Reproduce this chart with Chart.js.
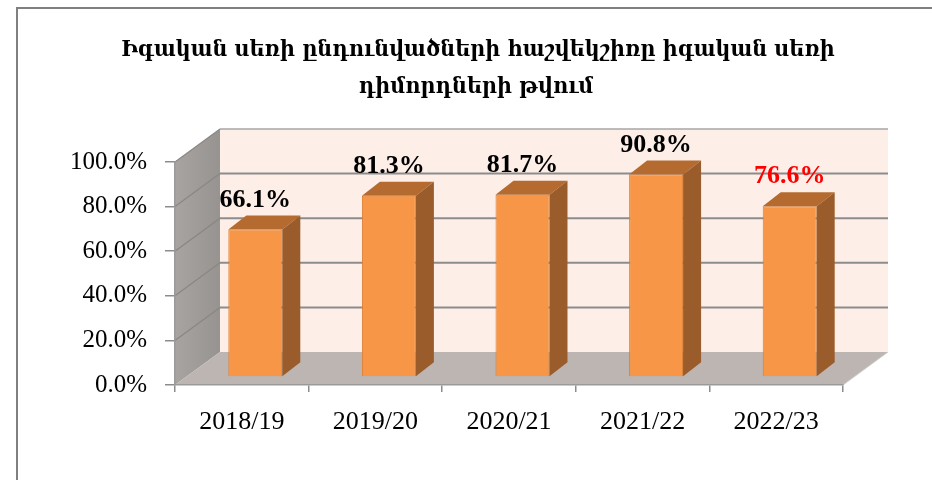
<!DOCTYPE html>
<html>
<head>
<meta charset="utf-8">
<script src="https://cdn.jsdelivr.net/npm/chart.js@4"></script>
<style>
  html, body { margin: 0; padding: 0; background: #ffffff; }
  #wrap { width: 932px; height: 480px; }
</style>
</head>
<body>
<div id="wrap"><canvas id="c" width="932" height="480"></canvas></div>
<script>
// ---- data ----
const titleLines = [
  'Իգական սեռի ընդունվածների հաշվեկշիռը իգական սեռի',
  'դիմորդների թվում'
];
const categories = ['2018/19', '2019/20', '2020/21', '2021/22', '2022/23'];
const shares = [66.1, 81.3, 81.7, 90.8, 76.6];
const labelColors = ['#000000', '#000000', '#000000', '#000000', '#ff0000'];
const yTickValues = [0, 20, 40, 60, 80, 100];

// ---- 3D look helpers (styling only) ----
const WALL_DX = 45, WALL_DY = -33;     // depth of the back wall
const BAR_SHIFT_X = 13.5, BAR_SHIFT_Y = -8; // bars sit in the middle of the depth
const BAR_DX = 18, BAR_DY = -14;       // depth of each column

const wallPlugin = {
  id: 'walls',
  beforeDraw(chart) {
    const ctx = chart.ctx;
    const a = chart.chartArea;
    const ys = chart.scales.y;
    ctx.save();
    ctx.fillStyle = '#ffffff';
    ctx.fillRect(0, 0, chart.width, chart.height);

    const bTop = ys.getPixelForValue(100) + WALL_DY;
    const bBot = ys.getPixelForValue(0) + WALL_DY;
    const bL = a.left + WALL_DX, bR = a.right + WALL_DX;

    // back wall
    ctx.fillStyle = '#fdeee7';
    ctx.fillRect(bL, bTop, bR - bL, bBot - bTop);

    // side wall
    const g = ctx.createLinearGradient(a.left, 0, bL, 0);
    g.addColorStop(0, '#a8a4a2');
    g.addColorStop(1, '#979391');
    ctx.fillStyle = g;
    ctx.beginPath();
    ctx.moveTo(a.left, ys.getPixelForValue(100));
    ctx.lineTo(bL, bTop);
    ctx.lineTo(bL, bBot);
    ctx.lineTo(a.left, ys.getPixelForValue(0));
    ctx.closePath();
    ctx.fill();

    // floor
    ctx.fillStyle = '#bdb5b1';
    ctx.beginPath();
    ctx.moveTo(a.left, a.bottom);
    ctx.lineTo(bL, bBot);
    ctx.lineTo(bR, bBot);
    ctx.lineTo(a.right, a.bottom);
    ctx.closePath();
    ctx.fill();
    ctx.strokeStyle = '#d2cdca';
    ctx.lineWidth = 1;
    ctx.beginPath();
    ctx.moveTo(bR, bBot);
    ctx.lineTo(a.right, a.bottom);
    ctx.stroke();

    // gridlines on back wall and side wall
    yTickValues.forEach(v => {
      if (v === 0) return;
      const yf = ys.getPixelForValue(v);
      const yb = yf + WALL_DY;
      ctx.strokeStyle = v === 100 ? '#a6a6a6' : '#8c8c8c';
      ctx.lineWidth = v === 100 ? 1.5 : 2;
      ctx.beginPath();
      ctx.moveTo(bL, yb);
      ctx.lineTo(bR, yb);
      ctx.stroke();
      ctx.strokeStyle = '#8a8684';
      ctx.lineWidth = 1.2;
      ctx.beginPath();
      ctx.moveTo(a.left, yf);
      ctx.lineTo(bL, yb);
      ctx.stroke();
    });

    // outer frame (partially visible)
    ctx.strokeStyle = '#808080';
    ctx.lineWidth = 2;
    ctx.beginPath();
    ctx.moveTo(17, chart.height + 2);
    ctx.lineTo(17, 8);
    ctx.lineTo(chart.width + 2, 8);
    ctx.stroke();

    // title
    ctx.fillStyle = '#000000';
    ctx.textAlign = 'center';
    ctx.textBaseline = 'middle';
    ctx.font = 'bold 23px "DejaVu Serif Condensed", "DejaVu Serif", serif';
    ctx.fillText(titleLines[0], 478, 50);
    ctx.fillText(titleLines[1], 476, 87);
    ctx.restore();
  },
  beforeDatasetsDraw(chart) {
    chart.ctx.save();
    chart.ctx.translate(BAR_SHIFT_X, BAR_SHIFT_Y);
  },
  afterDatasetsDraw(chart) {
    const ctx = chart.ctx;
    const meta = chart.getDatasetMeta(0);
    meta.data.forEach((bar, i) => {
      const p = bar.getProps(['x', 'y', 'base', 'width'], true);
      const xl = p.x - p.width / 2, xr = p.x + p.width / 2;
      const yt = p.y, yb = p.base;
      // top face
      ctx.fillStyle = '#b56b30';
      ctx.beginPath();
      ctx.moveTo(xl, yt);
      ctx.lineTo(xl + BAR_DX, yt + BAR_DY);
      ctx.lineTo(xr + BAR_DX, yt + BAR_DY);
      ctx.lineTo(xr, yt);
      ctx.closePath();
      ctx.fill();
      // side face
      ctx.fillStyle = '#9a5c2a';
      ctx.beginPath();
      ctx.moveTo(xr, yt);
      ctx.lineTo(xr + BAR_DX, yt + BAR_DY);
      ctx.lineTo(xr + BAR_DX, yb + BAR_DY);
      ctx.lineTo(xr, yb);
      ctx.closePath();
      ctx.fill();
      // value label
      ctx.fillStyle = labelColors[i];
      ctx.textAlign = 'center';
      ctx.textBaseline = 'alphabetic';
      ctx.font = 'bold 26px "Liberation Serif", serif';
      ctx.fillText(shares[i].toFixed(1) + '%', p.x, yt - 23);
    });
    ctx.restore();
  }
};

new Chart(document.getElementById('c'), {
  type: 'bar',
  data: {
    labels: categories,
    datasets: [{
      data: shares,
      backgroundColor: '#f79646',
      borderColor: '#dc7d31',
      borderWidth: 1,
      barPercentage: 0.404,
      categoryPercentage: 1,
      clip: false
    }]
  },
  options: {
    responsive: false,
    animation: false,
    devicePixelRatio: 1,
    layout: { padding: { top: 162, right: 89, left: 0, bottom: 0 } },
    plugins: {
      legend: { display: false },
      tooltip: { enabled: false },
      title: { display: false }
    },
    scales: {
      x: {
        afterFit(s) { s.height = 95; },
        grid: {
          display: true, drawOnChartArea: false, drawTicks: true,
          tickLength: 7, color: '#8c8c8c', lineWidth: 1.5, offset: true
        },
        border: { display: true, color: '#9a9a9a', width: 1.5 },
        ticks: {
          color: '#000000', padding: 15,
          font: { family: '"Liberation Serif", serif', size: 26 }
        }
      },
      y: {
        min: 0, max: 100,
        afterFit(s) { s.width = 175; },
        afterBuildTicks(s) { s.ticks = yTickValues.map(v => ({ value: v })); },
        grid: {
          display: true, drawOnChartArea: false, drawTicks: true,
          tickLength: 10, color: '#8c8c8c', lineWidth: 1.5
        },
        border: { display: true, color: '#9a9a9a', width: 1.5 },
        ticks: {
          color: '#000000', padding: 18,
          font: { family: '"Liberation Serif", serif', size: 25 },
          callback: v => Number(v).toFixed(1) + '%'
        }
      }
    }
  },
  plugins: [wallPlugin]
});
</script>
</body>
</html>
